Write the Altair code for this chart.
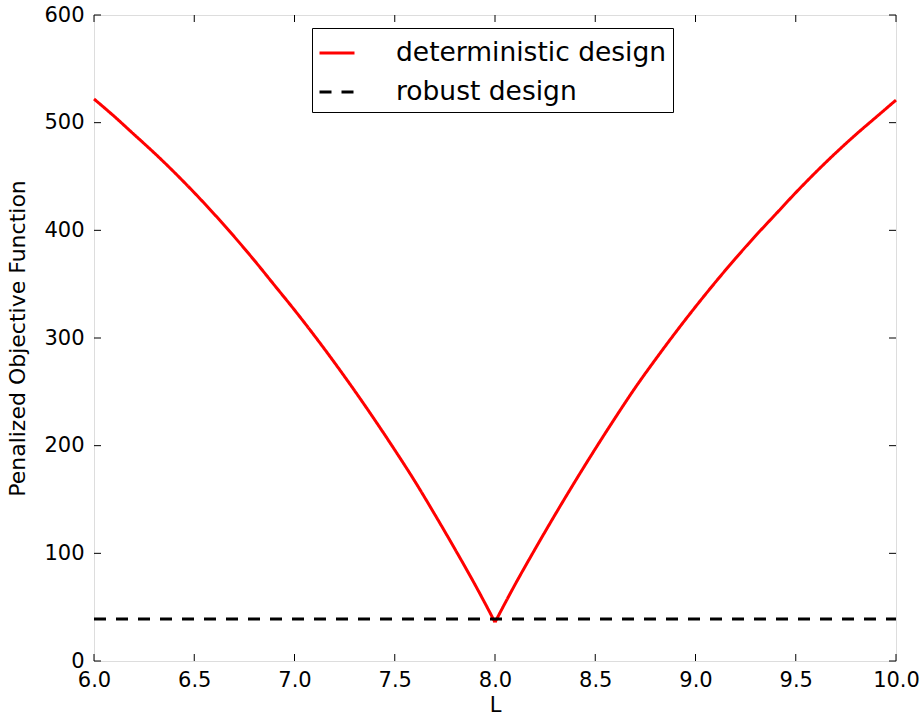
import altair as alt
import pandas as pd

# ---- data ----
L_vals = [6.0, 6.1, 6.2, 6.3, 6.4, 6.5, 6.6, 6.7, 6.8, 6.9, 7.0,
          7.1, 7.2, 7.3, 7.4, 7.5, 7.6, 7.7, 7.8, 7.9, 8.0,
          8.1, 8.2, 8.3, 8.4, 8.5, 8.6, 8.7, 8.8, 8.9, 9.0,
          9.1, 9.2, 9.3, 9.4, 9.5, 9.6, 9.7, 9.8, 9.9, 10.0]
det_vals = [522, 506, 489, 472, 454, 435, 415, 394, 372, 349, 326,
            302, 277, 251, 224, 196, 167, 136, 104, 71, 36,
            71, 104, 136, 167, 197, 226, 254, 280, 305, 329,
            352, 374, 395, 415, 435, 454, 472, 489, 505, 521]
robust_L = [6.0, 10.0]
robust_vals = [39, 39]
series_names = ["deterministic design", "robust design"]
x_ticks = [6.0, 6.5, 7.0, 7.5, 8.0, 8.5, 9.0, 9.5, 10.0]
y_ticks = [0, 100, 200, 300, 400, 500, 600]

W, H = 802, 646
FONT = "DejaVu Sans"

MIN_I = det_vals.index(min(det_vals))
df = pd.concat([
    pd.DataFrame({"L": L_vals[:MIN_I + 1], "v": det_vals[:MIN_I + 1],
                  "series": series_names[0], "branch": "left"}),
    pd.DataFrame({"L": L_vals[MIN_I:], "v": det_vals[MIN_I:],
                  "series": series_names[0], "branch": "right"}),
    pd.DataFrame({"L": robust_L, "v": robust_vals, "series": series_names[1], "branch": "flat"}),
])
xt = pd.DataFrame({"t": x_ticks})
yt = pd.DataFrame({"t": y_ticks})

xscale = alt.Scale(domain=[6, 10], nice=False, zero=False)
yscale = alt.Scale(domain=[0, 600], nice=False)

x_axis = alt.Axis(values=x_ticks, format=".1f", title="L", domain=False, ticks=False,
                  grid=False, labelFont=FONT, labelFontSize=21, labelColor="black",
                  labelPadding=8, labelFlush=False, labelOverlap=False, labelBound=False,
                  titleFont=FONT, titleFontSize=21, titleFontWeight="normal",
                  titleColor="black", titlePadding=4)
y_axis = alt.Axis(values=y_ticks, format="d", title="Penalized Objective Function",
                  domain=False, ticks=False, grid=False, labelFont=FONT, labelFontSize=21,
                  labelColor="black", labelPadding=10, labelFlush=False, labelOverlap=False,
                  titleFont=FONT, titleFontSize=22, titleFontWeight="normal",
                  titleColor="black", titlePadding=14)

X = alt.X("L:Q", scale=xscale, axis=x_axis)
Y = alt.Y("v:Q", scale=yscale, axis=y_axis)

lines = alt.Chart(df).mark_line(strokeWidth=3, interpolate="monotone").encode(
    x=X, y=Y,
    color=alt.Color("series:N", scale=alt.Scale(domain=series_names, range=["#ff0000", "black"]),
                    legend=alt.Legend(title=None, orient="none", legendX=218, legendY=13,
                                      symbolType="stroke", symbolSize=1225, symbolStrokeWidth=3,
                                      labelFont=FONT, labelFontSize=26.5, labelColor="black",
                                      labelOffset=40, padding=6, rowPadding=6,
                                      strokeColor="black", fillColor="white",
                                      cornerRadius=0, labelLimit=400)),
    strokeDash=alt.StrokeDash("series:N", scale=alt.Scale(domain=series_names, range=[[1, 0], [12, 10]]),
                              legend=None),
    detail="branch:N",
)

tick_style = dict(color="black", strokeWidth=1)
xb = alt.Chart(xt).mark_rule(**tick_style).encode(
    x=alt.X("t:Q", scale=xscale, axis=x_axis), y=alt.value(H), y2=alt.value(H - 7))
xtop = alt.Chart(xt).mark_rule(**tick_style).encode(
    x=alt.X("t:Q", scale=xscale, axis=x_axis), y=alt.value(0), y2=alt.value(7))
yl = alt.Chart(yt).mark_rule(**tick_style).encode(
    y=alt.Y("t:Q", scale=yscale, axis=y_axis), x=alt.value(0), x2=alt.value(7))
yr = alt.Chart(yt).mark_rule(**tick_style).encode(
    y=alt.Y("t:Q", scale=yscale, axis=y_axis), x=alt.value(W), x2=alt.value(W - 7))

chart = alt.layer(xb, xtop, yl, yr, lines).properties(
    width=W, height=H,
    autosize=alt.AutoSizeParams(type="none"),
    padding={"left": 94, "top": 15, "right": 27, "bottom": 56},
).configure_view(stroke="black", strokeWidth=1.5).configure(background="white")

chart.save("out.html", embed_options={"renderer": "svg", "actions": False})
